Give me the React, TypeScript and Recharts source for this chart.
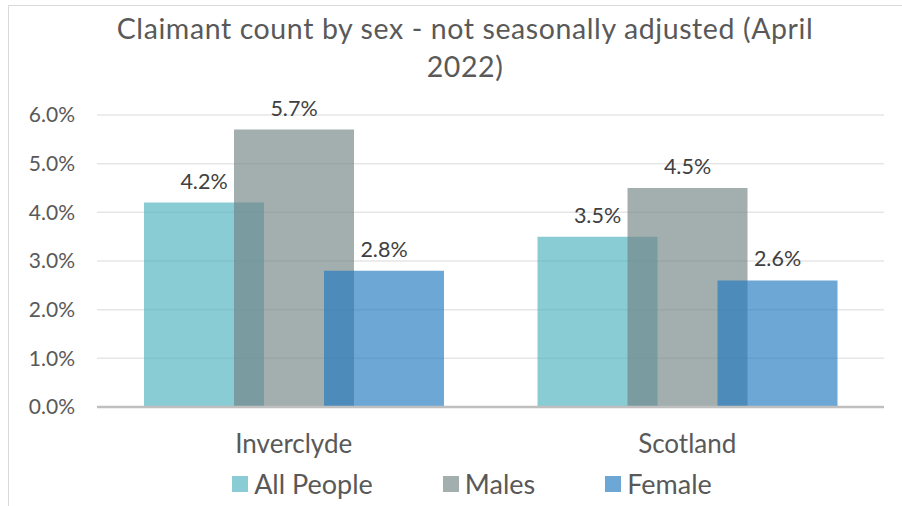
import { BarChart, Bar, XAxis, YAxis, CartesianGrid, LabelList } from "recharts";

const areas = ["Inverclyde", "Scotland"];
const allPeople = [4.2, 3.5];
const males = [5.7, 4.5];
const female = [2.8, 2.6];
const yTicks = [0, 1, 2, 3, 4, 5, 6];

const FONT = "Lato, 'Open Sans', sans-serif";
const TEXT = "#595959";

const series = [
  { key: "allPeople", name: "All People", color: "#4AB1BD" },
  { key: "males", name: "Males", color: "#728384" },
  { key: "female", name: "Female", color: "#1E78C0" },
];

const chartData = areas.map((area, i) => ({
  area,
  allPeople: allPeople[i],
  males: males[i],
  female: female[i],
}));

const pct = (v: number) => `${Number(v).toFixed(1)}%`;

const App = () => {
  return (
    <div style={{ position: "absolute", left: 0, top: 0, width: 902, height: 506, background: "#fff" }}>
      <div
        style={{
          position: "absolute",
          left: 8,
          top: 5,
          width: 900,
          height: 506,
          borderLeft: "1px solid #D9D9D9",
          borderTop: "1px solid #D9D9D9",
          boxSizing: "border-box",
        }}
      />
      <div
        style={{
          position: "absolute",
          left: 0,
          top: 9,
          width: 930,
          textAlign: "center",
          fontFamily: FONT,
          fontSize: 28.5,
          lineHeight: "38px",
          color: TEXT,
          letterSpacing: 0.6,
        }}
      >
        Claimant count by sex - not seasonally adjusted (April
        <br />
        2022)
      </div>
      <BarChart
        width={902}
        height={506}
        data={chartData}
        margin={{ top: 115, right: 18, bottom: 69, left: 0 }}
        barGap={-30}
        barSize={120}
        style={{ position: "absolute", left: 0, top: 0 }}
      >
        <CartesianGrid vertical={false} stroke="#E6E6E6" strokeWidth={1.5} />
        <XAxis
          dataKey="area"
          axisLine={{ stroke: "#BFBFBF", strokeWidth: 2.5 }}
          tickLine={false}
          tick={{ fontFamily: FONT, fontSize: 26, fill: TEXT }}
          tickMargin={22}
        />
        <YAxis
          width={97}
          domain={[0, 6]}
          ticks={yTicks}
          tickFormatter={pct}
          axisLine={false}
          tickLine={false}
          tickSize={0}
          tickMargin={22}
          tick={{ fontFamily: FONT, fontSize: 21, fill: TEXT }}
        />
        {series.map((s) => (
          <Bar key={s.key} dataKey={s.key} name={s.name} fill={s.color} fillOpacity={0.65} isAnimationActive={false}>
            <LabelList
              dataKey={s.key}
              position="top"
              offset={14}
              formatter={pct}
              style={{ fontFamily: FONT, fontSize: 21.5, fill: "#404040" }}
            />
          </Bar>
        ))}
      </BarChart>
      <div
        style={{
          position: "absolute",
          left: 0,
          top: 467,
          width: 902,
          display: "flex",
          justifyContent: "center",
          gap: 70,
          fontFamily: FONT,
          fontSize: 27,
          color: TEXT,
          paddingLeft: 42,
          boxSizing: "border-box",
        }}
      >
        {series.map((s) => (
          <div key={s.key} style={{ display: "flex", alignItems: "center" }}>
            <span style={{ width: 16, height: 16, background: s.color, opacity: 0.65, marginRight: 6, display: "inline-block" }} />
            <span>{s.name}</span>
          </div>
        ))}
      </div>
    </div>
  );
};

export default App;
